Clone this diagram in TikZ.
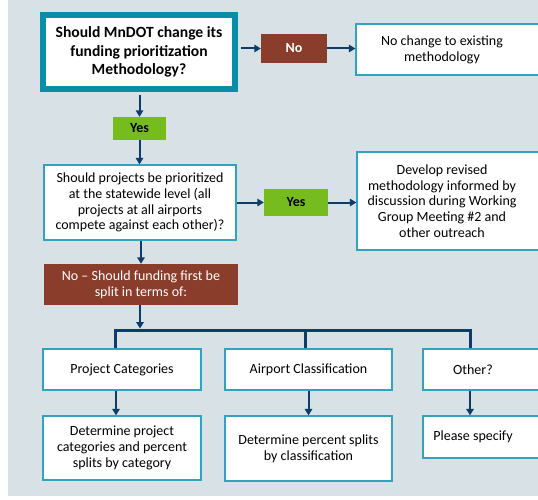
\documentclass[tikz,border=0pt]{standalone}
\usepackage{fontspec}
\setmainfont{Carlito}
\usetikzlibrary{arrows.meta}
\definecolor{bgc}{HTML}{D8E1E5}
\definecolor{teal}{HTML}{0A8EA8}
\definecolor{tealthin}{HTML}{30A4BE}
\definecolor{navy}{HTML}{0E3C68}
\definecolor{yesgreen}{HTML}{77BC1F}
\definecolor{nobrown}{HTML}{8B3D2C}
\tikzset{
  box/.style={draw=tealthin, line width=1.3pt, fill=white, rectangle, inner sep=0pt},
  txt/.style={align=center, font=\fontsize{14}{15.8}\selectfont, inner sep=0pt},
  mainbox/.style={draw=teal, line width=6pt, fill=white, rectangle, inner sep=0pt, align=center, font=\fontsize{15.6}{18.3}\selectfont\bfseries},
  yesbox/.style={fill=yesgreen, rectangle, inner sep=0pt, font=\fontsize{14}{15.8}\selectfont\bfseries},
  nobox/.style={fill=nobrown, text=white, rectangle, inner sep=0pt, align=center},
  arr/.style={draw=navy, line width=2pt, -{Triangle[width=7.5pt,length=6.5pt]}},
  busline/.style={draw=navy, line width=3pt}
}
\begin{document}
\begin{tikzpicture}[x=1pt,y=-1pt]
\useasboundingbox (0,0) rectangle (538,500);
\clip (0,0) rectangle (538,500);
\fill[white] (0,0) rectangle (538,500);
\fill[bgc] (7.5,0) rectangle (538,496);

% top row
\node[mainbox, minimum width=192, minimum height=74] (main) at (139,52)
  {Should MnDOT change its\\funding prioritization\\Methodology?};
\node[nobox, minimum width=66, minimum height=29, font=\fontsize{14}{15.8}\selectfont\bfseries] (no1) at (294,48.5) {No};
\node[box, minimum width=189, minimum height=51] (nochange) at (450.5,49.5) {};
\node[txt] (nochangetxt) at (442,49.5) {No change to existing\\methodology};

\node[yesbox, minimum width=53, minimum height=23] (yes1) at (139.5,128.5) {Yes};

% second row
\node[box, txt, minimum width=192, minimum height=75] (q2) at (140,202.5)
  {Should projects be prioritized\\at the statewide level (all\\projects at all airports\\compete against each other)?};
\node[yesbox, minimum width=64, minimum height=27] (yes2) at (296,202.5) {Yes};
\node[box, minimum width=188, minimum height=98] (develop) at (451,201) {};
\node[txt] (developtxt) at (442,201)
  {Develop revised\\methodology informed by\\discussion during Working\\Group Meeting \#2 and\\other outreach};

\node[nobox, minimum width=194, minimum height=41, font=\fontsize{14}{15.8}\selectfont] (no2) at (141,284.5)
  {No -- Should funding first be\\split in terms of:};

% third row
\node[box, txt, minimum width=158, minimum height=41] (pc) at (122,369.5) {Project Categories};
\node[box, txt, minimum width=167, minimum height=41] (ac) at (308.5,369.5) {Airport Classification};
\node[box, minimum width=122, minimum height=41] (oth) at (484,369.5) {};
\node[txt] (othtxt) at (473,369.5) {Other?};

% fourth row
\node[box, txt, minimum width=158, minimum height=64] (pc2) at (122,448)
  {Determine project\\categories and percent\\splits by category};
\node[box, txt, minimum width=167, minimum height=65] (ac2) at (308.5,448.5)
  {Determine percent splits\\by classification};
\node[box, minimum width=122, minimum height=42] (oth2) at (484,437) {};
\node[txt] (oth2txt) at (473,437) {Please specify};

% bus coordinates
\coordinate (bus) at (140,330);
\coordinate (b1) at (115,330);
\coordinate (b2) at (305,330);
\coordinate (b3) at (470,330);
\coordinate (d1) at (116,0);
\coordinate (d3) at (470,0);

% connectors
\draw[arr, shorten <=3pt] (main.east |- no1.west) -- (no1.west);
\draw[arr] (no1.east) -- (nochange.west |- no1.east);
\draw[arr, shorten <=3pt] (main.south -| yes1.north) -- (yes1.north);
\draw[arr] (yes1.south) -- (yes1.south |- q2.north);
\draw[arr] (q2.east |- yes2.west) -- (yes2.west);
\draw[arr] (yes2.east) -- (develop.west |- yes2.east);
\draw[arr] (q2.south -| no2.north) -- (no2.north);
\draw[arr, shorten >=1.5pt] (no2.south -| bus) -- (bus);
\draw[busline] (b1 |- pc.north) -- (b1) -- (b3) -- (b3 |- oth.north);
\draw[busline] (b2) -- (b2 |- ac.north);
\draw[arr] (d1 |- pc.south) -- (d1 |- pc2.north);
\draw[arr] (ac.south) -- (ac2.north);
\draw[arr] (d3 |- oth.south) -- (d3 |- oth2.north);
\end{tikzpicture}
\end{document}
